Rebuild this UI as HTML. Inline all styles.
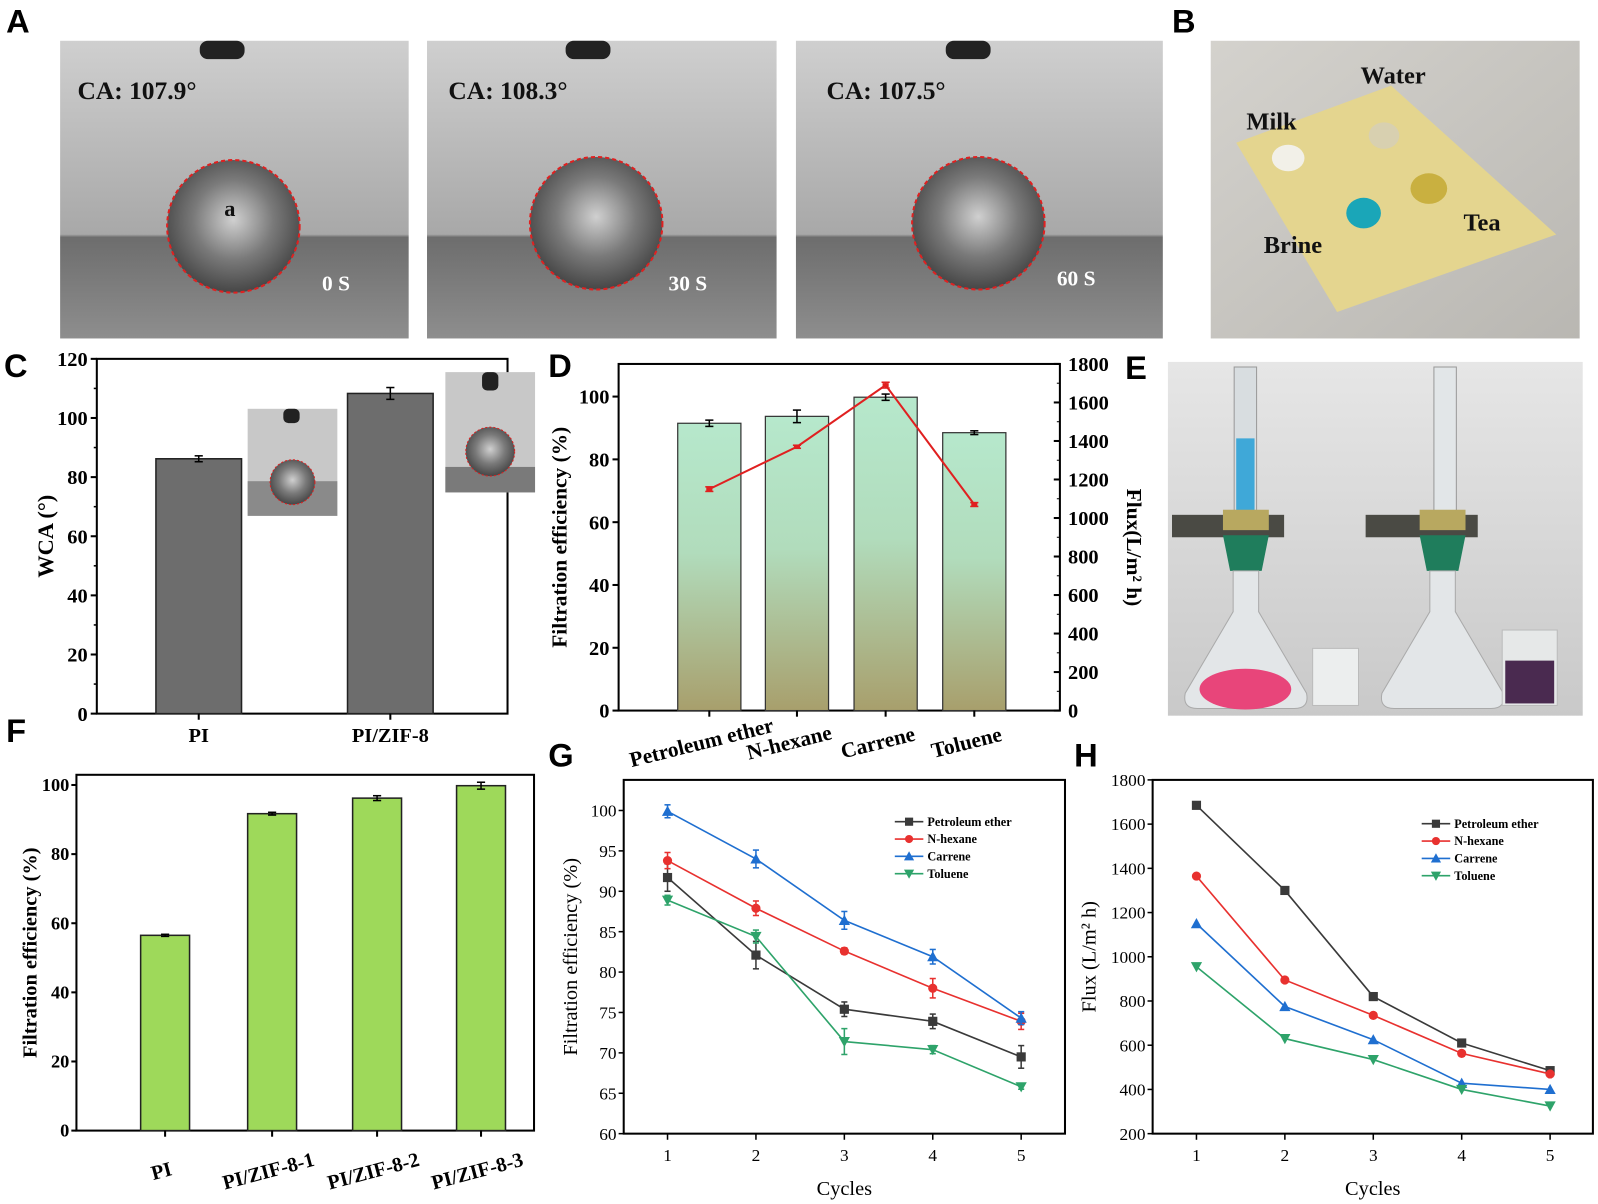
<!DOCTYPE html>
<html><head><meta charset="utf-8"><style>
html,body{margin:0;padding:0;background:#fff;}
svg{display:block;}
text{font-family:"Liberation Serif",serif;}
.pl{font-family:"Liberation Sans",sans-serif;font-weight:bold;font-size:32px;}
</style></head><body>
<svg id="fig" width="1598" height="1204" viewBox="0 0 1568 1181" preserveAspectRatio="none" xmlns="http://www.w3.org/2000/svg">
<defs>
<linearGradient id="gA" x1="0" y1="0" x2="0" y2="1"><stop offset="0" stop-color="#cfcfcf"/><stop offset="0.65" stop-color="#a8a8a8"/><stop offset="0.66" stop-color="#6d6d6d"/><stop offset="1" stop-color="#8e8e8e"/></linearGradient>
<radialGradient id="gDrop" cx="0.5" cy="0.45" r="0.6"><stop offset="0" stop-color="#d0d0d0"/><stop offset="0.5" stop-color="#7a7a7a"/><stop offset="1" stop-color="#3c3c3c"/></radialGradient>
<linearGradient id="gB" x1="0" y1="0" x2="1" y2="1"><stop offset="0" stop-color="#d4d2cd"/><stop offset="1" stop-color="#b9b7b2"/></linearGradient>
<linearGradient id="gE" x1="0" y1="0" x2="0" y2="1"><stop offset="0" stop-color="#e6e6e6"/><stop offset="1" stop-color="#c9c9c9"/></linearGradient>
<linearGradient id="gBar" x1="0" y1="0" x2="0" y2="1"><stop offset="0" stop-color="#b6e8cc"/><stop offset="0.45" stop-color="#b1dcbc"/><stop offset="1" stop-color="#a89f6c"/></linearGradient>
</defs>

<!-- Panel labels -->
<text class="pl" x="6" y="32">A</text>
<text class="pl" x="1150" y="32">B</text>
<text class="pl" x="4" y="370">C</text>
<text class="pl" x="538" y="370">D</text>
<text class="pl" x="1104" y="372">E</text>
<text class="pl" x="6" y="728">F</text>
<text class="pl" x="538" y="752">G</text>
<text class="pl" x="1054" y="752">H</text>

<!-- Panel A photos -->
<g>
<rect x="59" y="40" width="342" height="292" fill="url(#gA)"/>
<rect x="196" y="40" width="44" height="18" rx="8" fill="#222"/>
<circle cx="229" cy="222" r="65" fill="url(#gDrop)" stroke="#e02020" stroke-width="2" stroke-dasharray="4 3"/>
<text x="76" y="97" font-size="25" font-weight="bold" fill="#111">CA: 107.9°</text>
<text x="220" y="212" font-size="22" font-weight="bold" fill="#111">a</text>
<text x="316" y="285" font-size="21" font-weight="bold" fill="#fff" font-family="Liberation Sans">0 S</text>
</g>
<g>
<rect x="419" y="40" width="343" height="292" fill="url(#gA)"/>
<rect x="555" y="40" width="44" height="18" rx="8" fill="#222"/>
<circle cx="585" cy="219" r="65" fill="url(#gDrop)" stroke="#e02020" stroke-width="2" stroke-dasharray="4 3"/>
<text x="440" y="97" font-size="25" font-weight="bold" fill="#111">CA: 108.3°</text>
<text x="656" y="285" font-size="21" font-weight="bold" fill="#fff" font-family="Liberation Sans">30 S</text>
</g>
<g>
<rect x="781" y="40" width="360" height="292" fill="url(#gA)"/>
<rect x="928" y="40" width="44" height="18" rx="8" fill="#222"/>
<circle cx="960" cy="219" r="65" fill="url(#gDrop)" stroke="#e02020" stroke-width="2" stroke-dasharray="4 3"/>
<text x="811" y="97" font-size="25" font-weight="bold" fill="#111">CA: 107.5°</text>
<text x="1037" y="280" font-size="21" font-weight="bold" fill="#fff" font-family="Liberation Sans">60 S</text>
</g>

<!-- Panel B -->
<g>
<rect x="1188" y="40" width="362" height="292" fill="url(#gB)"/>
<polygon points="1213,140 1365,84 1527,230 1312,306" fill="#e4d58f"/>
<ellipse cx="1264" cy="155" rx="16" ry="13" fill="#f2f0e8"/>
<ellipse cx="1358" cy="133" rx="15" ry="13" fill="#d8d0b0"/>
<ellipse cx="1338" cy="209" rx="17" ry="15" fill="#1aa6b8"/>
<ellipse cx="1402" cy="185" rx="18" ry="15" fill="#c9b040"/>
<text x="1223" y="127" font-size="24" font-weight="bold" fill="#111">Milk</text>
<text x="1335" y="82" font-size="24" font-weight="bold" fill="#111">Water</text>
<text x="1240" y="248" font-size="24" font-weight="bold" fill="#111">Brine</text>
<text x="1436" y="226" font-size="24" font-weight="bold" fill="#111">Tea</text>
</g>

<!-- Panel E -->
<g>
<rect x="1146" y="355" width="407" height="347" fill="url(#gE)"/>
<rect x="1211" y="360" width="22" height="150" fill="#d8dde0" stroke="#999"/>
<rect x="1213" y="430" width="18" height="80" fill="#3fa8d8"/>
<rect x="1407" y="360" width="22" height="150" fill="#e2e6e8" stroke="#999"/>
<rect x="1150" y="505" width="110" height="22" fill="#4a4a44"/>
<rect x="1340" y="505" width="110" height="22" fill="#4a4a44"/>
<rect x="1200" y="500" width="45" height="20" fill="#b8a860"/>
<rect x="1393" y="500" width="45" height="20" fill="#b8a860"/>
<path d="M1200 525 L1245 525 L1238 560 L1207 560 Z" fill="#1f7d5c"/>
<path d="M1393 525 L1438 525 L1431 560 L1400 560 Z" fill="#1f7d5c"/>
<path d="M1210 560 L1235 560 L1235 600 L1282 680 Q1285 695 1270 695 L1175 695 Q1160 695 1163 680 L1210 600 Z" fill="#e3e6e8" stroke="#aaa"/>
<path d="M1403 560 L1428 560 L1428 600 L1475 680 Q1478 695 1463 695 L1368 695 Q1353 695 1356 680 L1403 600 Z" fill="#e3e6e8" stroke="#aaa"/>
<ellipse cx="1222" cy="676" rx="45" ry="20" fill="#e8457a"/>
<rect x="1288" y="636" width="45" height="56" fill="#eceeee" stroke="#bbb"/>
<rect x="1474" y="618" width="54" height="74" fill="#e6e8e8" stroke="#bbb"/>
<rect x="1477" y="648" width="48" height="42" fill="#4a2a50"/>
</g>

<g id="charts"></g>
</svg>
<script>
// ---------- Panel C data ----------
const cCats = ["PI","PI/ZIF-8"];
const cVals = [86.2, 108.3];
const cErr = [1.0, 2.0];
const cTicks = [0,20,40,60,80,100,120];
// ---------- Panel D data ----------
const dCats = ["Petroleum ether","N-hexane","Carrene","Toluene"];
const dEff = [91.5, 93.7, 99.8, 88.5];
const dEffErr = [1.0, 2.0, 1.0, 0.6];
const dFlux = [1150, 1370, 1690, 1070];
const dFluxErr = [12, 8, 15, 10];
const dTicksL = [0,20,40,60,80,100];
const dTicksR = [0,200,400,600,800,1000,1200,1400,1600,1800];
// ---------- Panel F data ----------
const fCats = ["PI","PI/ZIF-8-1","PI/ZIF-8-2","PI/ZIF-8-3"];
const fVals = [56.5, 91.7, 96.2, 99.8];
const fErr = [0.3, 0.4, 0.7, 1.0];
const fTicks = [0,20,40,60,80,100];
// ---------- Panel G data ----------
const cycles = [1,2,3,4,5];
const seriesNames = ["Petroleum ether","N-hexane","Carrene","Toluene"];
const gPE = [91.7, 82.1, 75.4, 73.9, 69.5];
const gNH = [93.8, 87.9, 82.6, 78.0, 73.9];
const gCA = [99.9, 94.0, 86.4, 81.9, 74.3];
const gTO = [88.9, 84.4, 71.4, 70.4, 65.8];
const gPEe = [1.7, 1.7, 0.9, 0.9, 1.4];
const gNHe = [1.0, 0.9, 0.4, 1.2, 1.0];
const gCAe = [0.8, 1.1, 1.1, 0.9, 0.8];
const gTOe = [0.6, 0.8, 1.6, 0.5, 0.3];
const gTicks = [60,65,70,75,80,85,90,95,100];
// ---------- Panel H data ----------
const hPE = [1685, 1300, 820, 610, 485];
const hNH = [1365, 895, 735, 563, 470];
const hCA = [1150, 775, 625, 428, 400];
const hTO = [955, 630, 535, 400, 325];
const hTicks = [200,400,600,800,1000,1200,1400,1600,1800];

const NS="http://www.w3.org/2000/svg";
const root=document.getElementById('charts');
function mk(tag,attrs,parent,txt){const e=document.createElementNS(NS,tag);for(const k in attrs)e.setAttribute(k,attrs[k]);if(txt!==undefined)e.textContent=txt;(parent||root).appendChild(e);return e;}
function lin(d0,d1,r0,r1){return v=>r0+(v-d0)*(r1-r0)/(d1-d0);}

const COLORS=["#3a3a3a","#e8312f","#1f6fd0","#2ea36a"];
const MARKERS=["square","circle","tri","tridown"];
function marker(g,type,x,y,c,s){
  let m;
  if(type==="square") m=mk('rect',{x:x-s,y:y-s,width:2*s,height:2*s,fill:c},g);
  else if(type==="circle") m=mk('circle',{cx:x,cy:y,r:s,fill:c},g);
  else if(type==="tri") m=mk('polygon',{points:`${x},${y-s-1} ${x-s-1},${y+s} ${x+s+1},${y+s}`,fill:c},g);
  else m=mk('polygon',{points:`${x},${y+s+1} ${x-s-1},${y-s} ${x+s+1},${y-s}`,fill:c},g);
  
  
}
function errbar(g,x,y1,y2,c,w){
  mk('line',{x1:x,y1:y1,x2:x,y2:y2,stroke:c,'stroke-width':1.5},g);
  mk('line',{x1:x-w,y1:y1,x2:x+w,y2:y1,stroke:c,'stroke-width':1.5},g);
  mk('line',{x1:x-w,y1:y2,x2:x+w,y2:y2,stroke:c,'stroke-width':1.5},g);
}

// ===== Panel C =====
(function(){
  const g=mk('g',{});
  
  
  const L=95,R=498,T=352,B=700;
  const y=lin(0,120,B,T);
  const xs=[195,383];
  mk('rect',{x:L,y:T,width:R-L,height:B-T,fill:'none',stroke:'#000','stroke-width':2},g);
  cTicks.forEach(t=>{mk('line',{x1:L,y1:y(t),x2:L-6,y2:y(t),stroke:'#000','stroke-width':2},g);
    const lb=mk('text',{x:L-9,y:y(t)+7,'text-anchor':'end','font-size':20,'font-weight':'bold'},g,t);
    });
  for(let t=10;t<120;t+=20)mk('line',{x1:L,y1:y(t),x2:L-3,y2:y(t),stroke:'#000','stroke-width':1.5},g);
  cCats.forEach((c,i)=>{
    const b=mk('rect',{x:xs[i]-42,y:y(cVals[i]),width:84,height:B-y(cVals[i]),fill:'#6d6d6d',stroke:'#222','stroke-width':1.5},g);
    
    
    errbar(g,xs[i],y(cVals[i]+cErr[i]),y(cVals[i]-cErr[i]),'#000',4);
    mk('line',{x1:xs[i],y1:B,x2:xs[i],y2:B+6,stroke:'#000','stroke-width':2},g);
    const lb=mk('text',{x:xs[i],y:B+28,'text-anchor':'middle','font-size':20,'font-weight':'bold'},g,c);
    
  });
  const t=mk('text',{x:0,y:0,'text-anchor':'middle','font-size':22,'font-weight':'bold',transform:`translate(52,${(T+B)/2}) rotate(-90)`},g,'WCA (°)');
  
  const i1=mk('g',{},g);
  mk('rect',{x:243,y:401,width:88,height:105,fill:'#c8c8c8'},i1);
  mk('rect',{x:243,y:472,width:88,height:34,fill:'#8a8a8a'},i1);
  mk('rect',{x:278,y:401,width:16,height:14,rx:5,fill:'#222'},i1);
  mk('circle',{cx:287,cy:473,r:22,fill:'url(#gDrop)',stroke:'#e02020','stroke-dasharray':'2 2'},i1);
  const i2=mk('g',{},g);
  mk('rect',{x:437,y:365,width:88,height:118,fill:'#c8c8c8'},i2);
  mk('rect',{x:437,y:458,width:88,height:25,fill:'#7a7a7a'},i2);
  mk('rect',{x:473,y:365,width:16,height:18,rx:5,fill:'#222'},i2);
  mk('circle',{cx:481,cy:443,r:24,fill:'url(#gDrop)',stroke:'#e02020','stroke-dasharray':'2 2'},i2);
})();

// ===== Panel D =====
(function(){
  const g=mk('g',{});
  
  
  const L=607,R=1040,T=357,B=697;
  const yl=lin(0,100,B,389), yr=lin(0,1800,B,T);
  const xs=[696,782,869,956];
  mk('rect',{x:L,y:T,width:R-L,height:B-T,fill:'none',stroke:'#000','stroke-width':2},g);
  dTicksL.forEach(t=>{mk('line',{x1:L,y1:yl(t),x2:L-6,y2:yl(t),stroke:'#000','stroke-width':2},g);
    const lb=mk('text',{x:L-9,y:yl(t)+7,'text-anchor':'end','font-size':20,'font-weight':'bold'},g,t);
    });
  dTicksR.forEach(t=>{mk('line',{x1:R,y1:yr(t),x2:R-6,y2:yr(t),stroke:'#000','stroke-width':2},g);
    if(t<1800) mk('line',{x1:R,y1:yr(t+100),x2:R-3,y2:yr(t+100),stroke:'#000','stroke-width':1},g);
    const lb=mk('text',{x:R+8,y:yr(t)+7,'font-size':20,'font-weight':'bold'},g,t);
    });
  dCats.forEach((c,i)=>{
    const b=mk('rect',{x:xs[i]-31,y:yl(dEff[i]),width:62,height:B-yl(dEff[i]),fill:'url(#gBar)',stroke:'#333','stroke-width':1.2},g);
    
    
    errbar(g,xs[i],yl(dEff[i]+dEffErr[i]),yl(dEff[i]-dEffErr[i]),'#000',4);
    mk('line',{x1:xs[i],y1:B,x2:xs[i],y2:B+6,stroke:'#000','stroke-width':2},g);
    const lb=mk('text',{x:0,y:0,'text-anchor':'middle','font-size':21,'font-weight':'bold',transform:`translate(${xs[i]-6},${B+38}) rotate(-14)`},g,c);
    
  });
  const pts=dFlux.map((v,i)=>`${xs[i]},${yr(v)}`).join(' ');
  const ln=mk('polyline',{points:pts,fill:'none',stroke:'#e02020','stroke-width':2},g);
  
  dFlux.forEach((v,i)=>{errbar(g,xs[i],yr(v+dFluxErr[i]),yr(v-dFluxErr[i]),'#e02020',4);
    const p=mk('rect',{x:xs[i]-3,y:yr(v)-2,width:6,height:4,fill:'#e02020'},g);
    });
  const t=mk('text',{x:0,y:0,'text-anchor':'middle','font-size':21,'font-weight':'bold',transform:`translate(556,${(T+B)/2}) rotate(-90)`},g,'Filtration efficiency (%)');
  
  const t2=mk('text',{x:0,y:0,'text-anchor':'middle','font-size':21,'font-weight':'bold',transform:`translate(1106,${(T+B)/2+10}) rotate(90)`},g,'Flux(L/m² h)');
  
})();

// ===== Panel F =====
(function(){
  const g=mk('g',{});
  
  
  const L=75,R=524,T=760,B=1109;
  const y=lin(0,100,B,770);
  const xs=[162,267,370,472];
  mk('rect',{x:L,y:T,width:R-L,height:B-T,fill:'none',stroke:'#000','stroke-width':2},g);
  fTicks.forEach(t=>{mk('line',{x1:L,y1:y(t),x2:L-5,y2:y(t),stroke:'#000','stroke-width':2},g);
    const lb=mk('text',{x:L-7,y:y(t)+6,'text-anchor':'end','font-size':18,'font-weight':'bold'},g,t);
    });
  fCats.forEach((c,i)=>{
    const b=mk('rect',{x:xs[i]-24,y:y(fVals[i]),width:48,height:B-y(fVals[i]),fill:'#9ed95a',stroke:'#222','stroke-width':1.5},g);
    
    
    errbar(g,xs[i],y(fVals[i]+fErr[i]),y(fVals[i]-fErr[i]),'#000',4);
    mk('line',{x1:xs[i],y1:B,x2:xs[i],y2:B+6,stroke:'#000','stroke-width':2},g);
    const lb=mk('text',{x:0,y:0,'text-anchor':'middle','font-size':20,'font-weight':'bold',transform:`translate(${xs[i]-2},${B+46}) rotate(-15)`},g,c);
    
  });
  const t=mk('text',{x:0,y:0,'text-anchor':'middle','font-size':20,'font-weight':'bold',transform:`translate(36,${(T+B)/2}) rotate(-90)`},g,'Filtration efficiency (%)');
  
})();

// ===== Line charts G & H =====
function lineChart(name,L,R,T,B,ymin,ymax,ticks,series,errs,ytitle,ytx,legX,legY){
  const g=mk('g',{});
  
  
  const x=lin(1,5,L+43,L+390);
  const y=lin(ymin,ymax,B,T+ (name==='cycle-efficiency-chart'?30:0));
  mk('rect',{x:L,y:T,width:R-L,height:B-T,fill:'none',stroke:'#000','stroke-width':2},g);
  ticks.forEach(t=>{mk('line',{x1:L,y1:y(t),x2:L-5,y2:y(t),stroke:'#000','stroke-width':1.5},g);
    const lb=mk('text',{x:L-7,y:y(t)+6,'text-anchor':'end','font-size':17},g,t);
    });
  cycles.forEach(c=>{mk('line',{x1:x(c),y1:B,x2:x(c),y2:B+6,stroke:'#000','stroke-width':1.5},g);
    const lb=mk('text',{x:x(c),y:B+27,'text-anchor':'middle','font-size':17},g,c);
    });
  series.forEach((s,k)=>{
    const sg=mk('g',{},g);
    
    
    mk('polyline',{points:s.map((v,i)=>`${x(cycles[i])},${y(v)}`).join(' '),fill:'none',stroke:COLORS[k],'stroke-width':1.6},sg);
    s.forEach((v,i)=>{ if(errs) errbar(sg,x(cycles[i]),y(v+errs[k][i]),y(v-errs[k][i]),COLORS[k],3);
      marker(sg,MARKERS[k],x(cycles[i]),y(v),COLORS[k],4.5);});
    const le=mk('g',{},g);
    
    
    const ly=legY+k*17;
    mk('line',{x1:legX,y1:ly,x2:legX+28,y2:ly,stroke:COLORS[k],'stroke-width':1.6},le);
    marker(le,MARKERS[k],legX+14,ly,COLORS[k],4);
    mk('text',{x:legX+32,y:ly+4,'font-size':12,'font-weight':'bold'},le,seriesNames[k]);
  });
  const xt=mk('text',{x:(L+R)/2,y:B+60,'text-anchor':'middle','font-size':20},g,'Cycles');
  
  const yt=mk('text',{x:0,y:0,'text-anchor':'middle','font-size':20,transform:`translate(${ytx},${(T+B)/2}) rotate(-90)`},g,ytitle);
  
}
lineChart('cycle-efficiency-chart',612,1045,765,1112,60,100,gTicks,[gPE,gNH,gCA,gTO],[gPEe,gNHe,gCAe,gTOe],'Filtration efficiency (%)',566,878,806);
lineChart('cycle-flux-chart',1131,1563,765,1112,200,1800,hTicks,[hPE,hNH,hCA,hTO],null,'Flux (L/m² h)',1075,1395,808);
</script>
</body></html>
